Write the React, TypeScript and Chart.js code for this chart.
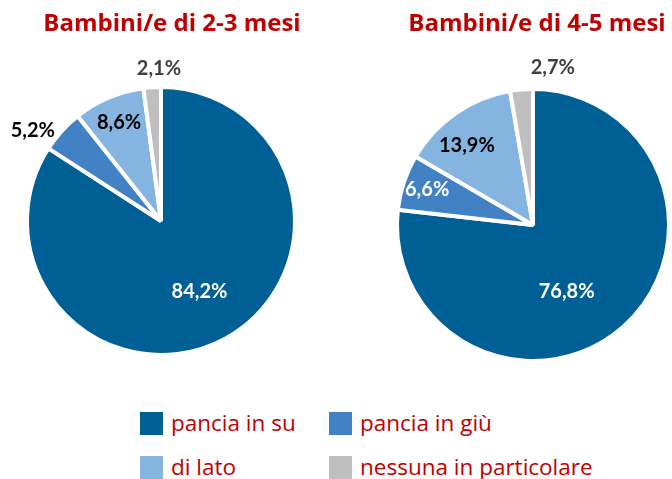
import React, { useEffect, useRef } from 'react';
import { Chart, registerables } from 'chart.js';

Chart.register(...registerables);

const categories = ['pancia in su', 'pancia in giù', 'di lato', 'nessuna in particolare'];
const values23 = [84.2, 5.2, 8.6, 2.1];
const values45 = [76.8, 6.6, 13.9, 2.7];
const title23 = 'Bambini/e di 2-3 mesi';
const title45 = 'Bambini/e di 4-5 mesi';

const colors = ['#005F94', '#4281C3', '#85B4E0', '#BFBFBF'];
const labelColors23 = ['#FFFFFF', '#000000', '#000000', '#404040'];
const labelColors45 = ['#FFFFFF', '#FFFFFF', '#000000', '#404040'];
const labelRadius23 = [0.6, 1.17, 0.8, 1.14];
const labelShift23 = [0, -7, 0, 3];
const labelRadius45 = [0.55, 0.82, 0.76, 1.17];
const labelShift45 = [15, 0, -5, 12];

const FONT = 'Lato, "Open Sans", sans-serif';
const TFONT = '"Open Sans", Lato, sans-serif';

function fmt(v: number) {
  return v.toFixed(1).replace('.', ',') + '%';
}

function makePlugin(title: string, titleX: number, labelColors: string[], radius: number[], shift: number[]) {
  return {
    id: 'custom' + title,
    afterDatasetsDraw(chart: any) {
      const ctx = chart.ctx;
      const meta = chart.getDatasetMeta(0);
      const data = chart.data.datasets[0].data as number[];
      ctx.save();
      ctx.textAlign = 'center';
      ctx.textBaseline = 'middle';
      ctx.font = `bold 20px ${FONT}`;
      meta.data.forEach((arc: any, i: number) => {
        const p = arc.getProps(['x', 'y', 'startAngle', 'endAngle', 'outerRadius'], true);
        const mid = (p.startAngle + p.endAngle) / 2 + (shift[i] * Math.PI) / 180;
        const r = p.outerRadius * radius[i];
        ctx.fillStyle = labelColors[i];
        ctx.fillText(fmt(data[i]), p.x + Math.cos(mid) * r, p.y + Math.sin(mid) * r);
      });
      ctx.font = `bold 24px ${TFONT}`;
      ctx.fillStyle = '#C00000';
      ctx.textBaseline = 'alphabetic';
      ctx.fillText(title, titleX, 31);
      ctx.restore();
    },
  };
}

function PieChart(props: {
  values: number[];
  title: string;
  titleX: number;
  padding: { left: number; right: number; top: number; bottom: number };
  labelColors: string[];
  radius: number[];
  shift: number[];
}) {
  const ref = useRef<HTMLCanvasElement>(null);
  useEffect(() => {
    const chart = new Chart(ref.current as HTMLCanvasElement, {
      type: 'pie',
      data: {
        labels: categories,
        datasets: [
          {
            data: props.values,
            backgroundColor: colors,
            borderColor: '#FFFFFF',
            borderWidth: 4,
          },
        ],
      },
      options: {
        animation: false,
        responsive: false,
        layout: { padding: props.padding },
        plugins: { legend: { display: false }, tooltip: { enabled: false } },
      },
      plugins: [makePlugin(props.title, props.titleX, props.labelColors, props.radius, props.shift)],
    });
    return () => chart.destroy();
  }, []);
  return <canvas ref={ref} width={336} height={390} style={{ width: 336, height: 390, display: 'block' }} />;
}

export default function App() {
  const legendItem = (i: number, left: number, top: number) => (
    <div key={i} style={{ position: 'absolute', left, top, display: 'flex', alignItems: 'center', height: 24 }}>
      <div style={{ width: 23, height: 23, background: colors[i], marginRight: 8 }} />
      <span style={{ color: '#C00000', fontFamily: TFONT, fontSize: 22.5, lineHeight: '24px', whiteSpace: 'nowrap' }}>
        {categories[i]}
      </span>
    </div>
  );
  return (
    <div style={{ position: 'fixed', left: 0, top: 0, width: 672, height: 479, background: '#fff', overflow: 'hidden' }}>
      <div style={{ position: 'absolute', left: 0, top: 0 }}>
        <PieChart
          values={values23}
          title={title23}
          titleX={172}
          padding={{ left: 25, right: 39, top: 85, bottom: 33 }}
          labelColors={labelColors23}
          radius={labelRadius23}
          shift={labelShift23}
        />
      </div>
      <div style={{ position: 'absolute', left: 336, top: 0 }}>
        <PieChart
          values={values45}
          title={title45}
          titleX={201}
          padding={{ left: 59, right: 1, top: 87, bottom: 27 }}
          labelColors={labelColors45}
          radius={labelRadius45}
          shift={labelShift45}
        />
      </div>
      {legendItem(0, 140, 411)}
      {legendItem(1, 329, 411)}
      {legendItem(2, 140, 455)}
      {legendItem(3, 329, 455)}
    </div>
  );
}
